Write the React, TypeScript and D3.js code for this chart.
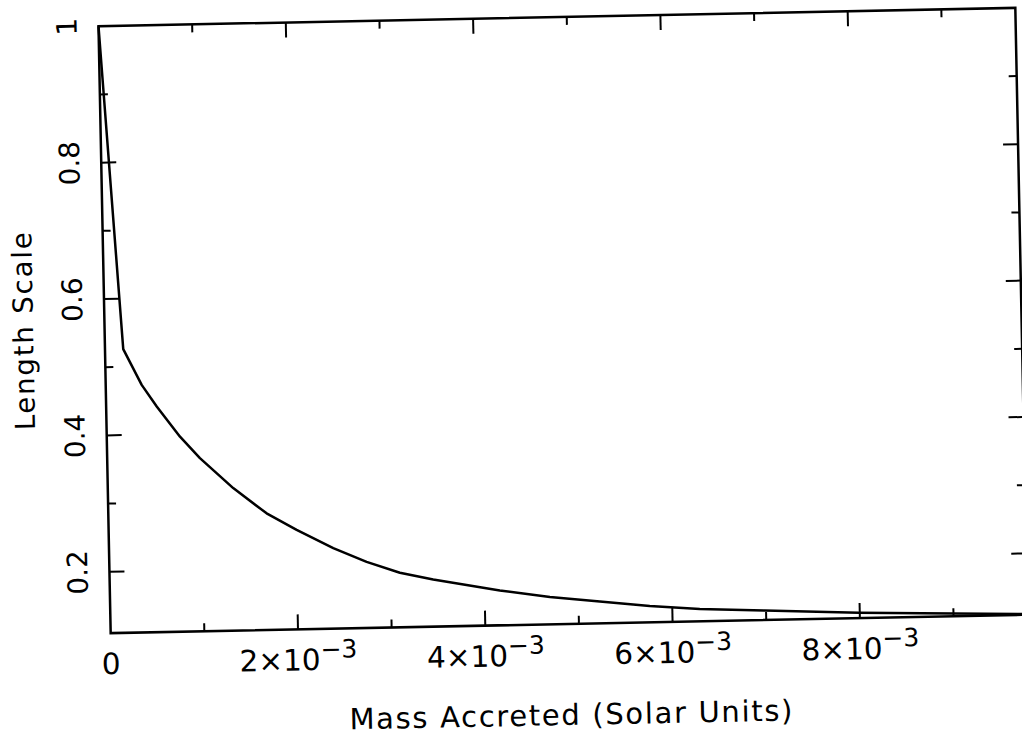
import * as React from 'react';
import * as d3 from 'd3';

// mass accreted (solar units) vs length scale
const massAccreted = [
  0, 0.000195, 0.000384, 0.00054, 0.000782, 0.00099, 0.001339, 0.00169, 0.002007,
  0.002394, 0.002747, 0.0031, 0.003454, 0.003809, 0.004163, 0.004696, 0.005228,
  0.00576, 0.006293, 0.006986, 0.00799, 0.009, 0.00979,
];
const lengthScale = [
  1.0, 0.526, 0.473, 0.441, 0.396, 0.364, 0.319, 0.281, 0.256,
  0.228, 0.207, 0.19, 0.179, 0.17, 0.161, 0.15, 0.142,
  0.134, 0.128, 0.124, 0.118, 0.114, 0.111,
];

const xMinorTicks = [0.001, 0.003, 0.005, 0.007, 0.009];
const xMajorTicks = [0.002, 0.004, 0.006, 0.008];
const yMinorTicks = [0.3, 0.5, 0.7, 0.9];
const yMajorTicks = [0.2, 0.4, 0.6, 0.8];

const xLabelValues = [0, 0.002, 0.004, 0.006, 0.008];
const xLabelMantissa = ['0', '2×10', '4×10', '6×10', '8×10'];
const xLabelExponent = ['', '−3', '−3', '−3', '−3'];

const yLabelValues = [0.2, 0.4, 0.6, 0.8, 1];
const yLabelText = ['0.2', '0.4', '0.6', '0.8', '1'];

const xTitle = 'Mass Accreted (Solar Units)';
const yTitle = 'Length Scale';

export default function App() {
  const svgRef = React.useRef<SVGSVGElement | null>(null);

  React.useEffect(() => {
    if (!svgRef.current) return;
    const width = 1022;
    const height = 736;
    const frame = { left: 104.5, right: 1021.5, top: 17, bottom: 624 };
    const font = '"DejaVu Sans", "Liberation Sans", sans-serif';

    const x = d3.scaleLinear().domain([0, 0.00979]).range([frame.left, frame.right]);
    const y = d3.scaleLinear().domain([0.11, 1.0]).range([frame.bottom, frame.top]);

    const svg = d3.select(svgRef.current);
    svg.selectAll('*').remove();
    svg.attr('width', width).attr('height', height);

    // the scan is tilted a little, so the whole plot is too
    const g = svg.append('g').attr('transform', 'rotate(-1.15 563 320.5)');

    // frame
    g.append('rect')
      .attr('x', frame.left)
      .attr('y', frame.top)
      .attr('width', frame.right - frame.left)
      .attr('height', frame.bottom - frame.top)
      .attr('fill', 'none')
      .attr('stroke', '#000')
      .attr('stroke-width', 2.5);

    // inward ticks on all four sides
    const tickG = g.append('g').attr('stroke', '#000').attr('stroke-width', 2);
    const xTicks = (vals: number[], len: number) => {
      vals.forEach((v) => {
        tickG.append('line').attr('x1', x(v)).attr('x2', x(v))
          .attr('y1', frame.bottom).attr('y2', frame.bottom - len);
        tickG.append('line').attr('x1', x(v)).attr('x2', x(v))
          .attr('y1', frame.top).attr('y2', frame.top + len);
      });
    };
    const yTicks = (vals: number[], len: number) => {
      vals.forEach((v) => {
        tickG.append('line').attr('x1', frame.left).attr('x2', frame.left + len)
          .attr('y1', y(v)).attr('y2', y(v));
        tickG.append('line').attr('x1', frame.right).attr('x2', frame.right - len)
          .attr('y1', y(v)).attr('y2', y(v));
      });
    };
    xTicks(xMinorTicks, 8);
    xTicks(xMajorTicks, 15);
    yTicks(yMinorTicks, 8);
    yTicks(yMajorTicks, 15);

    // curve
    const pts = massAccreted.map((m, i) => [m, lengthScale[i]] as [number, number]);
    const line = d3.line<[number, number]>()
      .x((d) => x(d[0]))
      .y((d) => y(d[1]))
      .curve(d3.curveLinear);
    g.append('path')
      .datum(pts)
      .attr('fill', 'none')
      .attr('stroke', '#000')
      .attr('stroke-width', 2.5)
      .attr('stroke-linejoin', 'round')
      .attr('d', line);

    // x tick labels
    xLabelValues.forEach((v, i) => {
      const t = g.append('text')
        .attr('x', x(v))
        .attr('y', 665)
        .attr('text-anchor', 'middle')
        .attr('font-family', font)
        .attr('font-size', 29.5)
        .attr('fill', '#000');
      t.append('tspan').text(xLabelMantissa[i]);
      if (xLabelExponent[i]) {
        t.append('tspan').attr('dy', -12).attr('font-size', 25).text(xLabelExponent[i]);
      }
    });

    // y tick labels, rotated
    yLabelValues.forEach((v, i) => {
      g.append('text')
        .attr('transform', `translate(82.5,${y(v)}) rotate(-90)`)
        .attr('text-anchor', 'middle')
        .attr('font-family', font)
        .attr('font-size', 28)
        .attr('fill', '#000')
        .text(yLabelText[i]);
    });

    // axis titles
    g.append('text')
      .attr('x', (frame.left + frame.right) / 2)
      .attr('y', 725)
      .attr('text-anchor', 'middle')
      .attr('font-family', font)
      .attr('font-size', 29)
      .attr('textLength', 443)
      .attr('lengthAdjust', 'spacing')
      .attr('fill', '#000')
      .text(xTitle);

    g.append('text')
      .attr('transform', `translate(33,${(frame.top + frame.bottom) / 2}) rotate(-90)`)
      .attr('text-anchor', 'middle')
      .attr('font-family', font)
      .attr('font-size', 27.5)
      .attr('textLength', 198)
      .attr('lengthAdjust', 'spacing')
      .attr('fill', '#000')
      .text(yTitle);
  }, []);

  return (
    <svg
      ref={svgRef}
      style={{ position: 'absolute', left: 0, top: 0, display: 'block', background: '#fff' }}
    />
  );
}
